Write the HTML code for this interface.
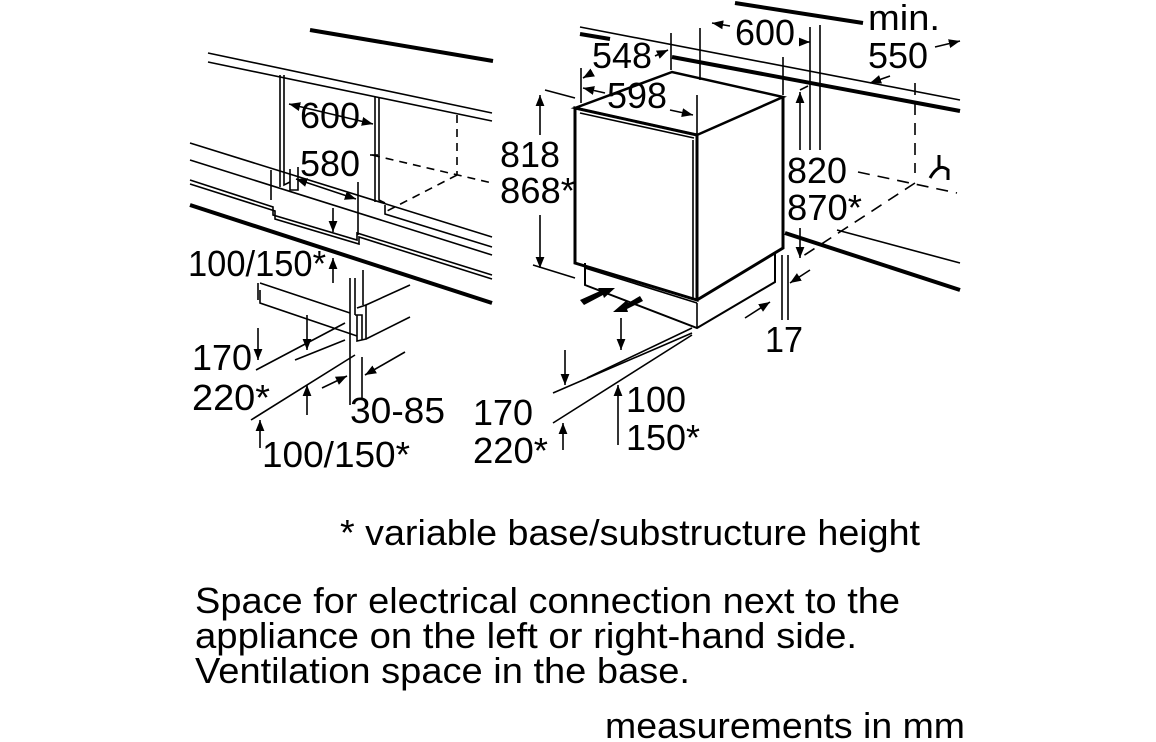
<!DOCTYPE html>
<html><head><meta charset="utf-8"><style>
html,body{margin:0;padding:0;background:#fff}
svg{display:block}
text{font-family:"Liberation Sans",sans-serif;fill:#000}
</style></head><body>
<svg width="1156" height="742" viewBox="0 0 1156 742" xmlns="http://www.w3.org/2000/svg">
<defs>
<marker id="a" viewBox="0 0 10 10" refX="10" refY="5" markerWidth="7" markerHeight="7" orient="auto-start-reverse"><path d="M0,1 L10,5 L0,9 z" fill="#000"/></marker>
</defs>
<g stroke="#000" fill="none" stroke-width="1.6">
<line x1="310" y1="30" x2="493" y2="61" stroke-width="4"/>
<line x1="208" y1="53" x2="492" y2="113"/>
<line x1="208" y1="62" x2="492" y2="121"/>
<polyline points="280,75 280,187"/><polyline points="284,75 284,185 290,182"/>
<polyline points="375,97 375,202"/><polyline points="379,97 379,200 385,203"/>
<polyline points="290,169 290,190 298,190 298,167" />
<line x1="190" y1="143" x2="492" y2="237"/>
<line x1="190" y1="160" x2="492" y2="255"/>
<polyline points="190,180 273,207 273,215 357,240 357,233 492,275"/>
<polyline points="190,184 275,211 275,219 359,244 359,237 492,279"/>
<line x1="190" y1="205" x2="492" y2="303" stroke-width="4"/>
<polyline points="385,205 385,214 492,247"/>
<g stroke-dasharray="8,6"><line x1="457" y1="115" x2="457" y2="175"/><line x1="372" y1="155" x2="492" y2="183"/><line x1="457" y1="175" x2="385" y2="212"/></g>
<line x1="271" y1="170" x2="271" y2="200"/><line x1="358" y1="182" x2="358" y2="235"/>
<line x1="289" y1="104" x2="373" y2="124" marker-start="url(#a)" marker-end="url(#a)"/>
<line x1="296" y1="179" x2="356" y2="199" marker-start="url(#a)" marker-end="url(#a)"/>
<line x1="370" y1="155" x2="378" y2="155"/>
<line x1="333" y1="208" x2="333" y2="232" marker-end="url(#a)"/>
<line x1="333" y1="283" x2="333" y2="258" marker-end="url(#a)"/>
<polyline points="258,283 258,300"/>
<polyline points="260,290 260,303 357,336"/>
<line x1="260" y1="283" x2="350" y2="313"/>
<line x1="350" y1="278" x2="350" y2="405"/><line x1="355" y1="278" x2="355" y2="315"/>
<line x1="363" y1="270" x2="363" y2="305"/>
<polyline points="355,315 362,315 362,340"/>
<line x1="366" y1="305" x2="410" y2="285"/><line x1="366" y1="339" x2="410" y2="317"/>
<polyline points="357,315 357,341 366,339 366,305 357,308"/>
<line x1="258" y1="328" x2="258" y2="360" marker-end="url(#a)"/>
<line x1="307" y1="315" x2="307" y2="350" marker-end="url(#a)"/>
<line x1="256" y1="370" x2="345" y2="323"/><line x1="295" y1="360" x2="345" y2="340"/>
<line x1="251" y1="420" x2="355" y2="355"/>
<line x1="362" y1="357" x2="362" y2="400"/>
<line x1="405" y1="352" x2="365" y2="375" marker-end="url(#a)"/>
<line x1="322" y1="388" x2="347" y2="376" marker-end="url(#a)"/>
<line x1="307" y1="415" x2="307" y2="385" marker-end="url(#a)"/>
<line x1="260" y1="448" x2="260" y2="420" marker-end="url(#a)"/>
<line x1="580" y1="27" x2="960" y2="100"/>
<line x1="672" y1="57" x2="960" y2="111" stroke-width="4"/>
<line x1="735" y1="3" x2="863" y2="23" stroke-width="4"/>
<line x1="580" y1="34" x2="610" y2="39" stroke-width="4"/>
<line x1="785" y1="233" x2="960" y2="290" stroke-width="4"/>
<line x1="837" y1="230" x2="960" y2="263"/>
<g stroke-dasharray="12,8"><line x1="858" y1="172" x2="957" y2="193"/><line x1="915" y1="183" x2="800" y2="258"/><line x1="915" y1="83" x2="915" y2="173"/></g>
<polygon points="575,108 672,72 783,97 697,135" stroke-width="2.5"/>
<polygon points="575,108 697,135 697,300 575,263" stroke-width="3"/>
<line x1="580" y1="113" x2="694" y2="138"/>
<line x1="693" y1="140" x2="693" y2="298"/>
<polyline points="783,97 783,248 697,300" stroke-width="3"/>
<polyline points="585,263 585,285 697,328 775,282 775,253" stroke-width="2"/>
<line x1="585" y1="268" x2="697" y2="303"/>
<line x1="697" y1="303" x2="697" y2="328"/>
<line x1="553" y1="393" x2="692" y2="333"/><line x1="587" y1="378" x2="692" y2="328"/>
<line x1="553" y1="423" x2="692" y2="335"/>
<line x1="700" y1="28" x2="700" y2="80"/><line x1="671" y1="33" x2="671" y2="70"/>
<line x1="810" y1="27" x2="810" y2="150"/><line x1="820" y1="25" x2="820" y2="150"/>
<line x1="783" y1="57" x2="783" y2="95"/>
<line x1="697" y1="95" x2="697" y2="135"/>
<line x1="581" y1="68" x2="581" y2="103"/>
<line x1="712" y1="23" x2="730" y2="26" marker-start="url(#a)"/>
<line x1="800" y1="42" x2="810" y2="42" marker-end="url(#a)"/>
<line x1="583" y1="78" x2="590" y2="74" marker-start="url(#a)"/>
<line x1="655" y1="56" x2="668" y2="50" marker-end="url(#a)"/>
<line x1="583" y1="88" x2="605" y2="93" marker-start="url(#a)"/>
<line x1="670" y1="110" x2="693" y2="115" marker-end="url(#a)"/>
<line x1="935" y1="47" x2="960" y2="41" marker-end="url(#a)"/>
<line x1="870" y1="83" x2="890" y2="76" marker-start="url(#a)"/>
<line x1="545" y1="90" x2="575" y2="98"/><line x1="533" y1="265" x2="575" y2="278"/>
<line x1="540" y1="95" x2="540" y2="135" marker-start="url(#a)"/>
<line x1="540" y1="215" x2="540" y2="268" marker-end="url(#a)"/>
<line x1="800" y1="90" x2="808" y2="86"/>
<line x1="800" y1="150" x2="800" y2="92" marker-end="url(#a)"/>
<line x1="800" y1="228" x2="800" y2="258" marker-end="url(#a)"/>
<line x1="782" y1="255" x2="782" y2="320"/><line x1="788" y1="255" x2="788" y2="320"/>
<line x1="810" y1="270" x2="790" y2="283" marker-end="url(#a)"/>
<line x1="745" y1="318" x2="770" y2="302" marker-end="url(#a)"/>
<line x1="621" y1="318" x2="621" y2="350" marker-end="url(#a)"/>
<line x1="565" y1="350" x2="565" y2="385" marker-end="url(#a)"/>
<line x1="618" y1="445" x2="618" y2="385" marker-end="url(#a)"/>
<line x1="563" y1="450" x2="563" y2="423" marker-end="url(#a)"/>
</g>
<polygon points="580,300 600,291 598,288 615,288 604,298 603,295 584,305" fill="#000"/>
<polygon points="640,296 628,303 627,300 613,312 628,312 627,309 643,301" fill="#000"/>
<g stroke="#000" stroke-width="3" fill="none"><line x1="939" y1="155" x2="939" y2="168"/><path d="M930,178 Q939,162 948,170 L948,180"/></g>
<g font-size="36" lengthAdjust="spacingAndGlyphs">
<text x="300" y="128" textLength="60" lengthAdjust="spacingAndGlyphs">600</text>
<text x="300" y="176" textLength="60" lengthAdjust="spacingAndGlyphs">580</text>
<text x="188" y="276" textLength="138" lengthAdjust="spacingAndGlyphs">100/150*</text>
<text x="192" y="370" textLength="60" lengthAdjust="spacingAndGlyphs">170</text>
<text x="192" y="410" textLength="78" lengthAdjust="spacingAndGlyphs">220*</text>
<text x="350" y="423" textLength="95" lengthAdjust="spacingAndGlyphs">30-85</text>
<text x="262" y="467" textLength="148" lengthAdjust="spacingAndGlyphs">100/150*</text>
<text x="592" y="68" textLength="60" lengthAdjust="spacingAndGlyphs">548</text>
<text x="607" y="108" textLength="60" lengthAdjust="spacingAndGlyphs">598</text>
<text x="735" y="45" textLength="60" lengthAdjust="spacingAndGlyphs">600</text>
<text x="868" y="30" textLength="72" lengthAdjust="spacingAndGlyphs">min.</text>
<text x="868" y="68" textLength="60" lengthAdjust="spacingAndGlyphs">550</text>
<text x="500" y="167" textLength="60" lengthAdjust="spacingAndGlyphs">818</text>
<text x="500" y="203" textLength="75" lengthAdjust="spacingAndGlyphs">868*</text>
<text x="787" y="183" textLength="60" lengthAdjust="spacingAndGlyphs">820</text>
<text x="787" y="220" textLength="75" lengthAdjust="spacingAndGlyphs">870*</text>
<text x="765" y="352" textLength="38" lengthAdjust="spacingAndGlyphs">17</text>
<text x="473" y="425" textLength="60" lengthAdjust="spacingAndGlyphs">170</text>
<text x="473" y="463" textLength="75" lengthAdjust="spacingAndGlyphs">220*</text>
<text x="626" y="412" textLength="60" lengthAdjust="spacingAndGlyphs">100</text>
<text x="626" y="450" textLength="74" lengthAdjust="spacingAndGlyphs">150*</text>
<text x="340" y="545" textLength="580" lengthAdjust="spacingAndGlyphs">* variable base/substructure height</text>
<text x="195" y="613" textLength="705" lengthAdjust="spacingAndGlyphs">Space for electrical connection next to the</text>
<text x="195" y="648" textLength="662" lengthAdjust="spacingAndGlyphs">appliance on the left or right-hand side.</text>
<text x="195" y="683" textLength="495" lengthAdjust="spacingAndGlyphs">Ventilation space in the base.</text>
<text x="605" y="738" textLength="360" lengthAdjust="spacingAndGlyphs">measurements in mm</text>
</g>
</svg>
</body></html>
